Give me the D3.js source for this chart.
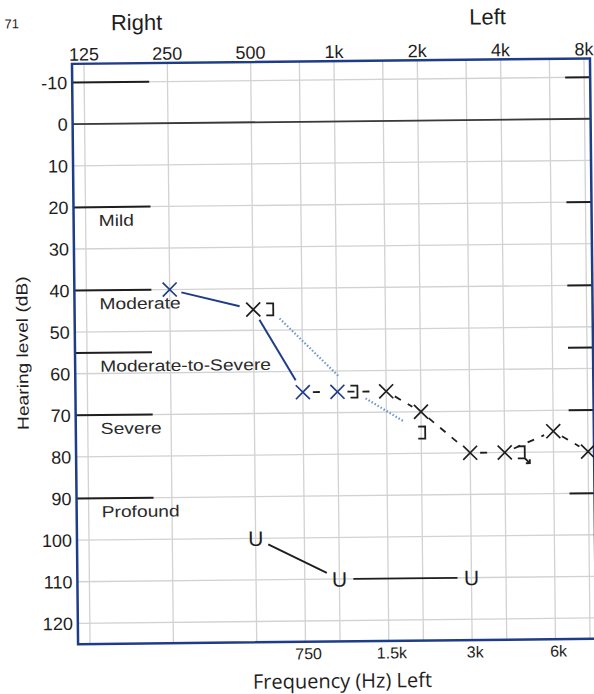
<!DOCTYPE html>
<html>
<head>
<meta charset="utf-8">
<script src="https://cdn.jsdelivr.net/npm/d3@7"></script>
<style>
  html, body { margin: 0; padding: 0; background: #fff; }
  svg { display: block; }
</style>
</head>
<body>
<div id="chart"></div>
<script>
// canvas
const width = 594;
const height = 694;

// data
const topFreqs = [125, 250, 500, 1000, 2000, 4000, 8000];
const topLabels = ["125", "250", "500", "1k", "2k", "4k", "8k"];
const midFreqs = [750, 1500, 3000, 6000];
const midLabels = ["750", "1.5k", "3k", "6k"];
const dbTicks = [-10, 0, 10, 20, 30, 40, 50, 60, 70, 80, 90, 100, 110, 120];

const degreeLevels = [-10, 20, 40, 55, 70, 90];
const degreeNames = ["", "Mild", "Moderate", "Moderate-to-Severe", "Severe", "Profound"];

// air conduction (X)
const airFreqs = [250, 500, 750, 1000, 1500, 2000, 3000, 4000, 6000, 8000];
const airLevels = [40, 45, 65, 65, 65, 70, 80, 80, 75, 80];
const bluePenFreqs = [250, 750, 1000];   // marks drawn in blue ink

// masked bone conduction (])
const boneFreqs = [500, 1000, 2000, 4000];
const boneLevels = [45, 65, 75, 80];
const boneNoResponse = [4000];

// vibrotactile (U)
const uFreqs = [500, 1000, 3000];
const uLevels = [100, 110, 110];

const air = airFreqs.map((f, i) => ({ f: f, db: airLevels[i] }));
const bone = boneFreqs.map((f, i) => ({ f: f, db: boneLevels[i] }));
const uMarks = uFreqs.map((f, i) => ({ f: f, db: uLevels[i] }));

// scales
const x = d3.scaleLog().base(2).domain([125, 8000]).range([87, 587]);
const y = d3.scaleLinear().domain([0, 120]).range([121.5, 620.7]);

const plotLeft = 75, plotRight = 593;
const plotTop = y(-14.5), plotBottom = y(125);

const navy = "#1f3c88";
const ink = "#1e1e1e";
const sans = "Liberation Sans, Arial, sans-serif";

const svg = d3.select("#chart")
    .append("svg")
    .attr("width", width)
    .attr("height", height)
    .attr("viewBox", `0 0 ${width} ${height}`);

// the scan is slightly tilted
const g = svg.append("g").attr("transform", "rotate(-0.6, 330, 350)");

// page number
g.append("text")
    .attr("x", 8).attr("y", 25)
    .text("71")
    .style("font-family", sans).style("font-size", "13px").style("fill", ink);

// ear headers
g.append("text")
    .attr("x", 140).attr("y", 28)
    .attr("text-anchor", "middle")
    .text("Right")
    .style("font-family", sans).style("font-size", "22px").style("fill", ink);
g.append("text")
    .attr("x", 491).attr("y", 26)
    .attr("text-anchor", "middle")
    .text("Left")
    .style("font-family", sans).style("font-size", "22px").style("fill", ink);

// grid
const grid = g.append("g");
grid.selectAll("line.v")
    .data(topFreqs.concat(midFreqs))
    .enter()
    .append("line")
    .attr("x1", d => x(d)).attr("x2", d => x(d))
    .attr("y1", plotTop).attr("y2", plotBottom)
    .style("stroke", "#d2d2d2").style("stroke-width", 1.3);
grid.selectAll("line.h")
    .data(dbTicks)
    .enter()
    .append("line")
    .attr("x1", plotLeft).attr("x2", plotRight)
    .attr("y1", d => y(d)).attr("y2", d => y(d))
    .style("stroke", "#d2d2d2").style("stroke-width", 1.3);

// 0 dB reference
g.append("line")
    .attr("x1", plotLeft).attr("x2", plotRight)
    .attr("y1", y(0)).attr("y2", y(0))
    .style("stroke", "#3a3a3a").style("stroke-width", 1.8);

// degree-of-loss markers
g.selectAll("line.deg")
    .data(degreeLevels)
    .enter()
    .append("line")
    .attr("x1", plotLeft).attr("x2", 152)
    .attr("y1", d => y(d)).attr("y2", d => y(d))
    .style("stroke", ink).style("stroke-width", 2);
g.selectAll("line.degR")
    .data(degreeLevels)
    .enter()
    .append("line")
    .attr("x1", 568).attr("x2", plotRight)
    .attr("y1", d => y(d)).attr("y2", d => y(d))
    .style("stroke", ink).style("stroke-width", 2);
g.selectAll("text.deg")
    .data(degreeLevels)
    .enter()
    .append("text")
    .attr("x", 100)
    .attr("y", d => y(d) + 19)
    .text((d, i) => degreeNames[i])
    .style("font-family", sans)
    .style("font-size", "16px")
    .style("fill", "#2a2a2a")
    .each(function() {
        // the scanned lettering is a little wider than Arial
        this.setAttribute("textLength", this.getComputedTextLength() * 1.2);
        this.setAttribute("lengthAdjust", "spacingAndGlyphs");
    });

// frame
g.append("rect")
    .attr("x", plotLeft).attr("y", plotTop)
    .attr("width", plotRight - plotLeft)
    .attr("height", plotBottom - plotTop)
    .style("fill", "none")
    .style("stroke", navy).style("stroke-width", 2.5);

// tick labels
g.selectAll("text.top")
    .data(topFreqs)
    .enter()
    .append("text")
    .attr("x", d => x(d)).attr("y", 58)
    .attr("text-anchor", "middle")
    .text((d, i) => topLabels[i])
    .style("font-family", sans).style("font-size", "18px").style("fill", ink);
g.selectAll("text.mid")
    .data(midFreqs)
    .enter()
    .append("text")
    .attr("x", d => x(d) + 3).attr("y", 659)
    .attr("text-anchor", "middle")
    .text((d, i) => midLabels[i])
    .style("font-family", sans).style("font-size", "16px").style("fill", ink);
g.selectAll("text.db")
    .data(dbTicks)
    .enter()
    .append("text")
    .attr("x", 70).attr("y", d => y(d))
    .attr("dy", "0.36em")
    .attr("text-anchor", "end")
    .text(d => d)
    .style("font-family", sans).style("font-size", "18px").style("fill", ink);

// axis titles
g.append("text")
    .attr("x", 339).attr("y", 688)
    .attr("text-anchor", "middle")
    .text("Frequency (Hz) Left")
    .style("font-family", "Open Sans, sans-serif").style("font-size", "20px").style("fill", ink);
g.append("text")
    .attr("transform", "translate(28, 350) rotate(-90)")
    .attr("text-anchor", "middle")
    .text("Hearing level (dB)")
    .style("font-family", sans).style("font-size", "16px").style("fill", ink)
    .each(function() {
        this.setAttribute("textLength", this.getComputedTextLength() * 1.2);
        this.setAttribute("lengthAdjust", "spacingAndGlyphs");
    });

// helpers
function trimmed(a, b, gapA, gapB) {
    const dx = b[0] - a[0], dy = b[1] - a[1];
    const len = Math.sqrt(dx * dx + dy * dy);
    return [
        [a[0] + dx * gapA / len, a[1] + dy * gapA / len],
        [b[0] - dx * gapB / len, b[1] - dy * gapB / len]
    ];
}
function connect(points, gapA, gapB, color, widthPx, dash) {
    for (let i = 0; i < points.length - 1; i++) {
        const s = trimmed(points[i], points[i + 1], gapA, gapB);
        g.append("line")
            .attr("x1", s[0][0]).attr("y1", s[0][1])
            .attr("x2", s[1][0]).attr("y2", s[1][1])
            .style("stroke", color)
            .style("stroke-width", widthPx)
            .style("stroke-dasharray", dash);
    }
}

// bone markers sit beside an X at the same level
const boneX = d => airFreqs.some((f, i) => f === d.f && airLevels[i] === d.db) ? x(d.f) + 17 : x(d.f) + 1;

// connecting lines
const airPts = air.map(d => [x(d.f), y(d.db)]);
connect(airPts.slice(0, 3), 12, 14, navy, 2, null);
connect(airPts.slice(2), 10, 10, ink, 1.8, "7,8");
const bonePts = bone.slice(0, 3).map(d => [boneX(d), y(d.db)]);
connect(bonePts, 13, 22, "#6f95cf", 2.2, "1.5,2");
const uPts = uMarks.map(d => [x(d.f), y(d.db)]);
connect(uPts, 14, 14, ink, 1.8, null);

// X markers
g.selectAll("path.air")
    .data(air)
    .enter()
    .append("path")
    .attr("transform", d => `translate(${x(d.f)},${y(d.db)})`)
    .attr("d", "M-7,-7L7,7M-7,7L7,-7")
    .style("fill", "none")
    .style("stroke", d => bluePenFreqs.includes(d.f) ? navy : ink)
    .style("stroke-width", 1.7);

// ] markers (with a down arrow where there was no response)
g.selectAll("path.bone")
    .data(bone)
    .enter()
    .append("path")
    .attr("transform", d => `translate(${boneX(d)},${y(d.db)})`)
    .attr("d", d => boneNoResponse.includes(d.f)
        ? "M-4,-6H3V6H-4M3,6L8,11M4,11H8V7"
        : "M-4,-6H3V6H-4")
    .style("fill", "none")
    .style("stroke", ink)
    .style("stroke-width", 1.8);

// U markers
g.selectAll("text.u")
    .data(uMarks)
    .enter()
    .append("text")
    .attr("x", d => x(d.f)).attr("y", d => y(d.db))
    .attr("dy", "0.36em")
    .attr("text-anchor", "middle")
    .text("U")
    .style("font-family", sans).style("font-size", "21px").style("fill", ink);
</script>
</body>
</html>
